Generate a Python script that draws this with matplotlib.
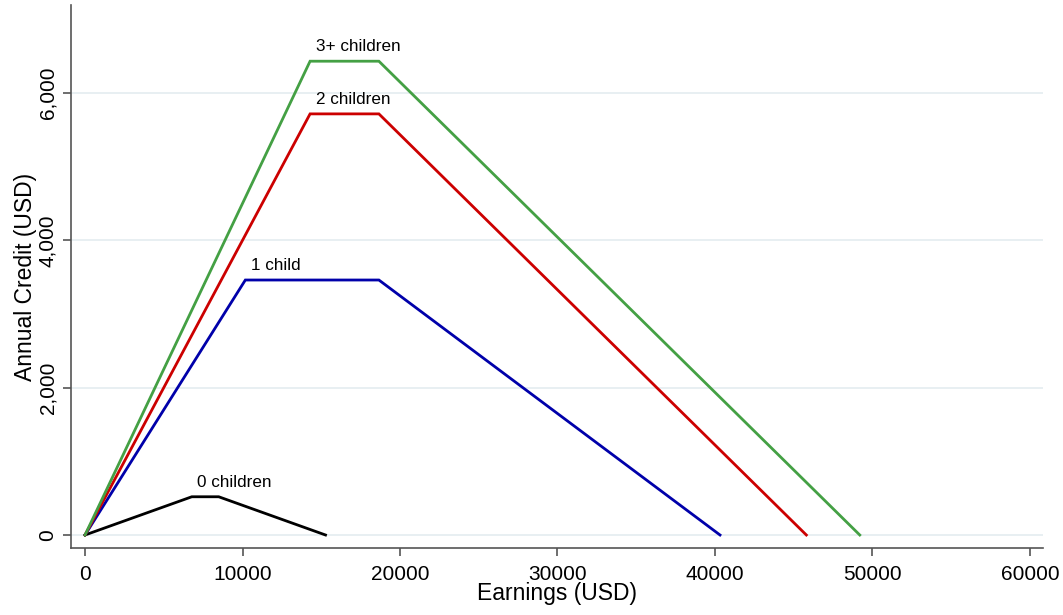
import matplotlib
matplotlib.use('Agg')
import matplotlib.pyplot as plt
from matplotlib.ticker import FuncFormatter

plt.rcParams['font.family'] = ['Liberation Sans', 'DejaVu Sans']

# EITC schedule: (earnings, credit) kink points per family type
labels = ['0 children', '1 child', '2 children', '3+ children']
colors = ['#000000', '#0000aa', '#cc0000', '#44a044']
earnings = [
    [0, 6780, 8490, 15270],
    [0, 10180, 18660, 40320],
    [0, 14290, 18660, 45802],
    [0, 14290, 18660, 49194],
]
credit = [
    [0, 519, 519, 0],
    [0, 3461, 3461, 0],
    [0, 5716, 5716, 0],
    [0, 6431, 6431, 0],
]
xticks = [0, 10000, 20000, 30000, 40000, 50000, 60000]
yticks = [0, 2000, 4000, 6000]

fig = plt.figure(figsize=(10.63, 6.15), dpi=100)
ax = fig.add_axes([0.0668, 0.109, 0.9144, 0.883])

for x, y, c, lab in zip(earnings, credit, colors, labels):
    ax.plot(x, y, color=c, lw=2.0, solid_joinstyle='miter', zorder=3)
    ax.annotate(lab, xy=(x[1], y[1]), xytext=(4, 5), textcoords='offset points',
                ha='left', va='bottom', fontsize=12.3)

ax.set_xlim(-890, 60830)
ax.set_ylim(-176, 7195)
ax.set_xticks(xticks)
ax.set_yticks(yticks)
ax.yaxis.set_major_formatter(FuncFormatter(lambda v, p: f'{int(v):,}'))
for t in ax.get_yticklabels():
    t.set_rotation(90)
    t.set_va('center')
ax.tick_params(axis='both', labelsize=15, length=6, width=1.2, color='#555555')
ax.tick_params(axis='x', pad=6)
ax.tick_params(axis='y', pad=4)

ax.grid(axis='y', color='#e4ecf0', lw=1.2, zorder=0)
ax.set_axisbelow(True)
for s in ['top', 'right']:
    ax.spines[s].set_visible(False)
for s in ['left', 'bottom']:
    ax.spines[s].set_color('#555555')
    ax.spines[s].set_linewidth(1.2)

ax.set_xlabel('Earnings (USD)', fontsize=16.5, labelpad=-1)
ax.set_ylabel('Annual Credit (USD)', fontsize=16.5, labelpad=1)

fig.savefig('out.png', dpi=100)
